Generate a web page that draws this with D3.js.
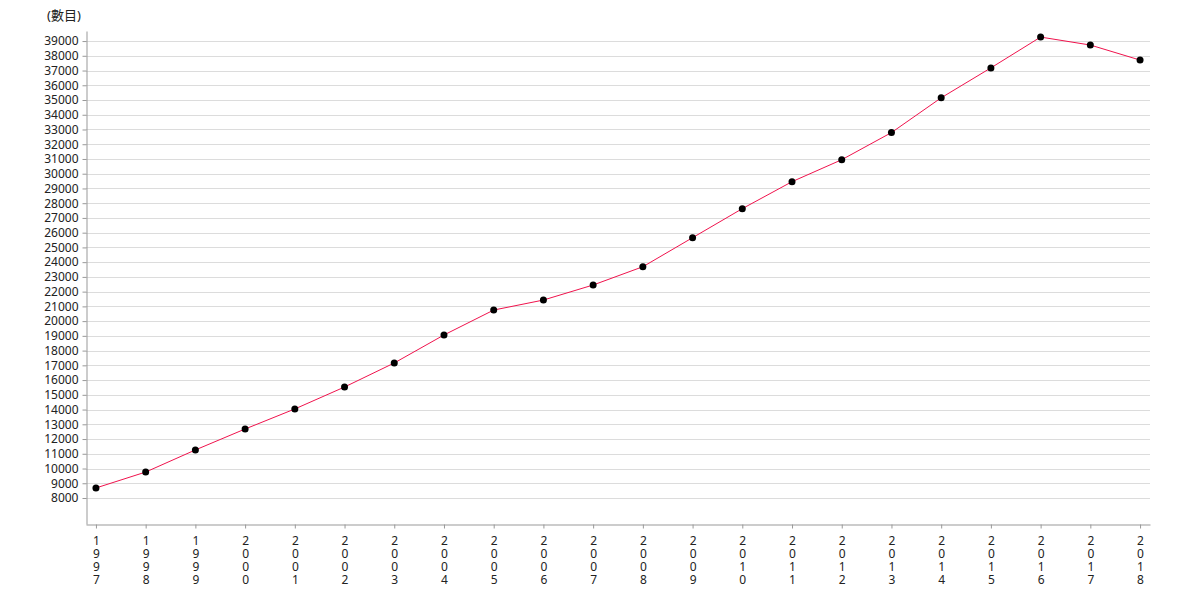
<!DOCTYPE html>
<html>
<head>
<meta charset="utf-8">
<script src="https://cdn.jsdelivr.net/npm/d3@7"></script>
<style>
  body { margin: 0; background: #fff; }
  text { font-family: "Noto Sans", "Noto Sans CJK TC", sans-serif; }
</style>
</head>
<body>
<svg id="chart"></svg>
<script>
const width = 1180;
const height = 600;

const years = [1997, 1998, 1999, 2000, 2001, 2002, 2003, 2004, 2005, 2006, 2007,
  2008, 2009, 2010, 2011, 2012, 2013, 2014, 2015, 2016, 2017, 2018];
const counts = [8680, 9760, 11260, 12680, 14040, 15530, 17160, 19060, 20750, 21430, 22450,
  23690, 25660, 27630, 29460, 30950, 32790, 35150, 37180, 39270, 38730, 37710];
const yTicks = d3.range(8000, 39001, 1000);
const unitLabel = "(數目)";

const margin = { top: 31, right: 30, bottom: 76, left: 86 };

const svg = d3.select("#chart")
  .attr("width", width)
  .attr("height", height);

const x = d3.scalePoint()
  .domain(years)
  .range([margin.left, width - margin.right])
  .padding(0.2);

const y = d3.scaleLinear()
  .domain([6236, 39682])
  .range([height - margin.bottom, margin.top]);

// grid
svg.append("g")
  .selectAll("line")
  .data(yTicks)
  .enter().append("line")
  .attr("x1", margin.left)
  .attr("x2", width - margin.right)
  .attr("y1", d => Math.round(y(d)) + 0.5)
  .attr("y2", d => Math.round(y(d)) + 0.5)
  .attr("stroke", "#dcdcdc")
  .attr("stroke-width", 1);

// y axis
const yAxis = svg.append("g")
  .attr("transform", `translate(${margin.left + 0.5},0)`)
  .call(d3.axisLeft(y).tickValues(yTicks).tickSize(4).tickSizeOuter(0).tickPadding(4).tickFormat(d3.format("d")));
yAxis.select(".domain").attr("stroke", "#999");
yAxis.selectAll(".tick line").attr("stroke", "#999");
yAxis.selectAll("text")
  .attr("font-size", 12)
  .attr("fill", "#222")
  .style("font-family", "'Noto Sans', sans-serif");

// x axis
const xAxis = svg.append("g")
  .attr("transform", `translate(0,${height - margin.bottom + 0.5})`)
  .call(d3.axisBottom(x).tickSize(4).tickSizeOuter(0).tickFormat(""));
xAxis.select(".domain").attr("stroke", "#999");
xAxis.selectAll(".tick line").attr("stroke", "#999");

// years stacked one digit per row
xAxis.selectAll(".tick")
  .append("text")
  .attr("text-anchor", "middle")
  .attr("fill", "#222")
  .attr("font-size", 12)
  .style("font-family", "'Noto Sans', sans-serif")
  .selectAll("tspan")
  .data(d => String(d).split(""))
  .enter().append("tspan")
  .attr("x", 0)
  .attr("y", (c, i) => 20 + i * 13)
  .text(c => c);

// line
const line = d3.line()
  .x((d, i) => x(years[i]))
  .y(d => y(d));

svg.append("path")
  .datum(counts)
  .attr("d", line)
  .attr("fill", "none")
  .attr("stroke", "#f0134d")
  .attr("stroke-width", 1);

svg.append("g")
  .selectAll("circle")
  .data(counts)
  .enter().append("circle")
  .attr("cx", (d, i) => x(years[i]))
  .attr("cy", d => y(d))
  .attr("r", 3.5)
  .attr("fill", "#000");

// unit label
svg.append("text")
  .attr("x", 47)
  .attr("y", 20)
  .attr("font-size", 13)
  .attr("fill", "#222")
  .text(unitLabel);
</script>
</body>
</html>
